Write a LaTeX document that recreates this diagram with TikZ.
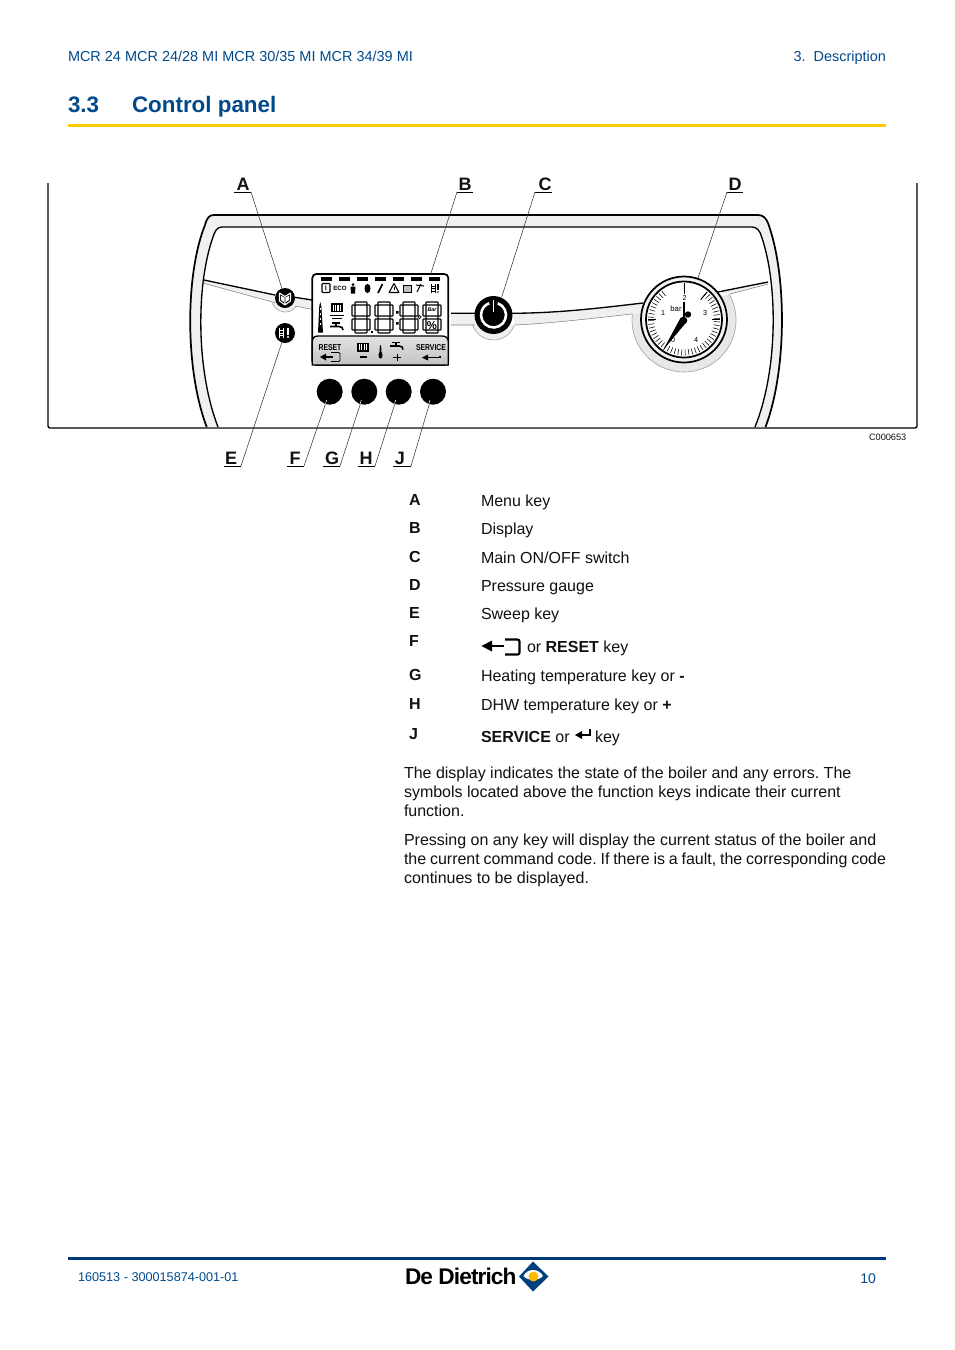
\documentclass[tikz,border=0pt]{standalone}
\usepackage{fontspec}
\usepackage{graphicx}
\setmainfont{Liberation Sans}
\frenchspacing
\definecolor{hblue}{HTML}{004A8C}
\definecolor{fblue}{HTML}{003A78}
\definecolor{ribbon}{HTML}{FFCC00}
\definecolor{ringfill}{HTML}{F0F0F0}
\definecolor{txt}{HTML}{111111}
\definecolor{leaderc}{HTML}{333333}
\newcommand{\fs}[1]{\fontsize{#1}{#1}\selectfont}
\tikzset{
  lab/.style={anchor=base west,inner sep=0,outer sep=0,text=txt,font=\fs{12}},
  labb/.style={lab,font=\fs{12}\bfseries},
  head/.style={anchor=base west,inner sep=0,outer sep=0,text=hblue,font=\fs{10.85}},
  callout/.style={anchor=base,inner sep=0,outer sep=0,text=txt,font=\fs{13.5}\bfseries},
  uline/.style={line width=0.6pt,black},
  leader/.style={line width=0.4pt,leaderc},
  tipline/.style={line width=0.4pt,white},
  blackkey/.style={circle,fill=black,inner sep=0,outer sep=0,minimum size=19.5pt},
  smallkey/.style={blackkey,minimum size=15pt},
  seg/.style={draw=black,line width=0.8pt,fill=white,rounded corners=0.5pt},
  lcdtxt/.style={inner sep=0,outer sep=0,text=black},
  gaugetxt/.style={inner sep=0,outer sep=0,text=black,font=\fs{5.4}},
}
\newcommand{\segdigit}[2]{\begin{scope}[shift={(#1,#2)}]
  \draw[seg] (3,0) rectangle (15,3);
  \draw[seg] (3,14) rectangle (15,17);
  \draw[seg] (3,28) rectangle (15,31);
  \draw[seg] (0,3) rectangle (3,14);
  \draw[seg] (15,3) rectangle (18,14);
  \draw[seg] (0,17) rectangle (3,28);
  \draw[seg] (15,17) rectangle (18,28);
\end{scope}}
\newcommand{\radiator}[3]{\begin{scope}[shift={(#1,#2)},scale=#3]
  \fill[black] (-6,0) rectangle (6,9);
  \foreach \q in {-3.6,-1.2,1.2,3.6}{\fill[white] (\q-.6,1.5) rectangle (\q+.6,7.5);}
\end{scope}}
\newcommand{\tapicon}[2]{\begin{scope}[shift={(#1,#2)}]
  \draw[line width=0.9pt,black] (-4,0) -- (4,0);
  \draw[line width=1.2pt,black] (0,0) -- (0,3);
  \draw[line width=1.2pt,black] (-6,3.5) -- (3,3.5) .. controls (6,3.5) and (7,5) .. (7,7);
\end{scope}}
\begin{document}
\begin{tikzpicture}[x=0.75pt,y=-0.75pt]
\useasboundingbox (0,0) rectangle (954,1350);
\fill[white] (0,0) rectangle (954,1350);
% header
\node[head] (hdrl) at (68,61) {MCR 24 MCR 24/28 MI MCR 30/35 MI MCR 34/39 MI};
\node[head,anchor=base east] (hdrr) at (886,61) {3.\hspace{6pt}Description};
\node[head,font=\fs{16.8}\bfseries] (secn) at (68,112.5) {3.3};
\node[head,font=\fs{16.8}\bfseries] (sect) at (132,112.5) {Control panel};
\fill[ribbon] (68,124) rectangle (886,127);
% frame
\draw[line width=1pt,black,rounded corners=1.5pt] (48,183) -- (48,428) -- (917,428) -- (917,183);
% ring
\path[fill=ringfill,even odd rule]
 (206.7,427) .. controls (185,370) and (185,275) .. (205,225) .. controls (207,218) and (209,215) .. (214,215)
 -- (758,215) .. controls (763,215) and (766,218) .. (768,223) .. controls (787,275) and (787,370) .. (765.5,427) -- cycle
 (218,427) .. controls (196,370) and (196,285) .. (213,237) .. controls (215,231) and (217,227) .. (222,227)
 -- (752,227) .. controls (757,227) and (760,231) .. (761.7,237) .. controls (778,285) and (778,370) .. (755,427) -- cycle;
\draw[line width=1.3pt,black] (206.7,427) .. controls (185,370) and (185,275) .. (205,225) .. controls (207,218) and (209,215) .. (214,215)
 -- (758,215) .. controls (763,215) and (766,218) .. (768,223) .. controls (787,275) and (787,370) .. (765.5,427);
\draw[line width=1pt,black] (218,427) .. controls (196,370) and (196,285) .. (213,237) .. controls (215,231) and (217,227) .. (222,227)
 -- (752,227) .. controls (757,227) and (760,231) .. (761.7,237) .. controls (778,285) and (778,370) .. (755,427);
% halos
\draw[fill=ringfill,draw=gray!70,line width=0.5pt] (285,298.5)+(160:13.5) arc[start angle=160,end angle=20,radius=13.5];
\draw[fill=ringfill,draw=gray!70,line width=0.5pt] (493.5,318)+(161.5:22) arc[start angle=161.5,end angle=18.5,radius=22];
\draw[fill=gray!18,draw=gray!70,line width=0.5pt] (684,320)+(186.6:52) arc[start angle=186.6,end angle=-29.5,radius=52];
% bands
\fill[ringfill] (204,280) -- (275,295) -- (275,302.7) -- (204,283.3) -- cycle;
\fill[ringfill] (295,297.3) -- (312,300) -- (312,309.3) -- (295,306) -- cycle;
\fill[ringfill] (451,313.3) -- (475,313.3) -- (475,325) -- (451,325) -- cycle;
\fill[ringfill] (512,313.3) .. controls (560,313) and (600,308) .. (643,303) -- (650,312) -- (632,314) .. controls (595,318) and (555,323) .. (515,325) -- cycle;
\fill[ringfill] (718,292) -- (768,282) -- (768,284) -- (730,294) -- cycle;
\draw[line width=1pt,black] (204,280) -- (275,295) (295,297.3) -- (312,300) (451,313.3) -- (475,313.3);
\draw[line width=1pt,black] (512,313.3) .. controls (560,313) and (600,308) .. (643,303);
\draw[line width=1pt,black] (718,292) -- (768,282);
\draw[line width=0.4pt,gray] (204,283.3) -- (275,302.7) (295,306) -- (312,309.3) (451,325) -- (475,325);
\draw[line width=0.4pt,gray] (515,325) .. controls (555,323) and (595,318) .. (632,314);
\draw[line width=0.4pt,gray] (730,294) -- (768,284);
% keys
\node[smallkey] (keyA) at (285,298) {};
\node[smallkey] (keyE) at (285,333) {};
\node[blackkey,minimum size=28.5pt] (keyC) at (493.5,315) {};
\node[blackkey] (keyF) at (329.7,391.7) {};
\node[blackkey] (keyG) at (364.3,391.7) {};
\node[blackkey] (keyH) at (398.7,391.7) {};
\node[blackkey] (keyJ) at (433,391.7) {};
% key icons
\draw[white,line width=0.8pt,line join=round] (279.5,293) -- (285,296.5) -- (290.5,293) -- (290.5,301) -- (285,305) -- (279.5,301) -- cycle (285,296.5) -- (285,305);
\fill[white] (281,295.5) -- (284,297.5) -- (284,302) -- (281,300) -- cycle (289,295.5) -- (286,297.5) -- (286,302) -- (289,300) -- cycle;
\draw[white,line width=0.5pt] (279,328) -- (279,338) (283,328) -- (283,338) (279,330.5) -- (283,330.5) (279,333) -- (283,333) (279,335.5) -- (283,335.5);
\draw[white,line width=1.4pt] (288,328) -- (288,334.5);
\fill[white] (288,337) circle (1.2);
\draw[white,line width=1.9pt] (493.5,315)+(-70:12.5) arc[start angle=-70,end angle=250,radius=12.5];
\draw[white,line width=1.4pt] (493.5,300) -- (493.5,312);
% display
\node[draw=black,line width=1.3pt,rounded corners=3pt,fill=white,inner sep=0,outer sep=0,minimum width=102pt,minimum height=68.25pt] (display) at (380.3,319.5) {};
\fill[top color=gray!22,bottom color=gray!48,draw=black,line width=1pt] (312.3,365) -- (312.3,342) .. controls (312.3,338) and (314,336) .. (318,336) -- (442,336) .. controls (446,336) and (448.3,338) .. (448.3,342) -- (448.3,365) -- cycle;
\foreach \q in {321,339,357,375,393,411,429}{\fill[black] (\q,277) rectangle (\q+11,281);}
% top icons
\draw[black,line width=0.8pt,rounded corners=0.6pt] (322,283.5) rectangle (330,292.5);
\node[lcdtxt,font=\fs{5.5}\bfseries] (lcdi) at (326,288) {i};
\node[lcdtxt,font=\fs{4.6}\bfseries] (lcdeco) at (340,288) {ECO};
\fill[black] (353,284.5) circle (1.5) (350.5,286.5) -- (355.5,286.5) -- (355,293.5) -- (351,293.5) -- cycle;
\fill[black] (367.5,288.5) ellipse (3 and 4.6);
\draw[black,line width=1.2pt] (378,293) -- (382.5,284);
\draw[black,line width=0.8pt,line join=round] (394,283.5) -- (399,292.5) -- (389,292.5) -- cycle;
\fill[black] (393.5,286.5) rectangle (394.5,290);
\draw[black,fill=gray!50,line width=0.7pt] (403,285) rectangle (411,292);
\draw[black,line width=0.8pt] (417,292) -- (421,284) (416,285) -- (424,286);
\draw[black,line width=0.5pt] (431,284) -- (431,293) (435,284) -- (435,293) (431,286) -- (435,286) (431,288.5) -- (435,288.5) (431,291) -- (435,291);
\draw[black,line width=1pt] (438,284) -- (438,290);
\fill[black] (438,292) circle (0.8);
% left column
\fill[black] (318,332.5) -- (319.3,306) -- (320.3,302) -- (321.3,306) -- (323,332.5) -- cycle;
\foreach \q in {308,313,318,323}{\fill[white] (319.9,\q) rectangle (321,\q+2);}
\radiator{336.7}{303}{1}
\draw[black,line width=0.9pt] (330,315.5) -- (344,315.5) (332,318.5) -- (342,318.5);
\tapicon{336}{323}
% digits
\segdigit{352}{302}
\segdigit{375}{302}
\segdigit{400}{302}
\segdigit{423}{302}
\fill[black] (371,330.5) rectangle (373,332.5);
\fill[black] (396,311) rectangle (398.5,313.5) (396,322) rectangle (398.5,324.5);
\draw[black,line width=0.6pt] (419.5,317) circle (1.6);
\node[lcdtxt,font=\fs{4}\bfseries\itshape] (lcdbar) at (432,310) {Bar};
\node[lcdtxt,font=\fs{8.5}\bfseries] (lcdpct) at (432,325.5) {\%};
% lower icons
\node[lcdtxt,font=\fs{6.4}\bfseries] (lcdreset) at (330,347.5) {\scalebox{.8}[1]{RESET}};
\node[lcdtxt,font=\fs{6.4}\bfseries] (lcdserv) at (431,347.5) {\scalebox{.8}[1]{SERVICE}};
\fill[black] (320,357) -- (326,353.5) -- (326,360.5) -- cycle;
\draw[black,line width=0.8pt] (326,357) -- (333,357);
\draw[black,line width=0.7pt,rounded corners=1pt] (331,352.5) -- (340,352.5) -- (340,361.5) -- (331,361.5);
\radiator{363}{343}{.95}
\draw[black,line width=1pt] (359.5,357) -- (366.5,357);
\fill[black] (380,345) -- (381.2,345.6) -- (381.4,352) .. controls (383,354) and (383,358.5) .. (380.5,358.5) .. controls (378,358.5) and (378,354) .. (379.6,352) -- (379.8,345.6) -- cycle;
\tapicon{396}{342.5}
\draw[black,line width=0.7pt] (393,357) -- (401,357) (397,353.5) -- (397,361);
\fill[black] (422,357.5) -- (428,354.5) -- (428,360.5) -- cycle;
\draw[black,line width=1pt] (428,357.5) -- (440,357.5) -- (440,355.5);
% gauge
\node[circle,draw=black,line width=1.3pt,fill=gray!10,inner sep=0,outer sep=0,minimum size=64.5pt] (gauge) at (684,319.5) {};
\draw[black,line width=1.3pt,fill=white] (684,319.5) circle (38);
\foreach \a in {232,226,...,-50}{\draw[black,line width=0.42pt] (684,319.5)+(\a:30) -- +(\a:36);}
\draw[black,line width=1.1pt] (684,319.5)+(180:28) -- +(180:36) (684,319.5)+(0:28) -- +(0:36);
\draw[black,line width=0.7pt] (684,319.5)+(-50:26) -- +(-50:36);
\node[gaugetxt] (g1) at (663,313) {1};
\node[gaugetxt] (g2) at (684.5,297.5) {2};
\node[gaugetxt] (g3) at (705,313) {3};
\node[gaugetxt] (g4) at (696,340) {4};
\node[gaugetxt] (g0) at (673,340) {0};
\node[gaugetxt,font=\fs{5.8}] (gbar) at (676,309) {bar};
\draw[black,line width=0.7pt] (684,283) -- (684,293.5);
\draw[black,line width=2pt] (684,301.5) -- (684,318);
\fill[black] (683.5,320.5) circle (3.8) (688,314.5) circle (3.2);
\fill[black] (662.8,350.5) -- (680.5,318) -- (686.5,322) -- cycle;
% callouts
\foreach \nm/\xx/\yy/\ul/\ur/\uy in {A/243/190.7/234/251/192,B/465/190.7/457/473/192,C/545/190.7/535/552/192,D/735/190.7/727/743/192,E/231/464/224/241/466,F/295/464/287/304/466,G/332/464/323/340/466,H/366/464/358/375/466,J/400/464/393/411/466}{
  \node[callout] (lab\nm) at (\xx,\yy) {\nm};
  \coordinate (ul\nm) at (\ul,\uy);
  \coordinate (ur\nm) at (\ur,\uy);
  \draw[uline] (ul\nm) -- (ur\nm);
}
\coordinate (tipB) at (430.7,274);
\coordinate (tipC) at (501.7,297);
\coordinate (tipD) at (698,278);
\draw[leader] (urA) -- (keyA);
\draw[leader] (ulB) -- (tipB);
\draw[leader] (ulC) -- (tipC);
\draw[leader] (ulD) -- (tipD);
\draw[leader] (urE) -- (keyE);
\draw[leader] (urF) -- (keyF);
\draw[leader] (urG) -- (keyG);
\draw[leader] (urH) -- (keyH);
\draw[leader] (urJ) -- (keyJ);
\draw[tipline] (keyF)+(-3,8.3) -- +(-4.2,12.3);
\draw[tipline] (keyG)+(-3,8.3) -- +(-4.2,12.3);
\draw[tipline] (keyH)+(-3,8.3) -- +(-4.2,12.3);
\draw[tipline] (keyJ)+(-3,8.3) -- +(-4.2,12.3);
\node[lab,font=\fs{6.9}] (code) at (869,440) {C000653};
% list
\foreach \nm/\yy in {A/505,B/533.5,C/562,D/590,E/618.5,F/646.5,G/680,H/709,J/739}{\node[labb] (it\nm) at (409,\yy) {\nm};}
\node[lab] (dA) at (481,506) {Menu key};
\node[lab] (dB) at (481,534) {Display};
\node[lab] (dC) at (481,563) {Main ON/OFF switch};
\node[lab] (dD) at (481,591) {Pressure gauge};
\node[lab] (dE) at (481,619) {Sweep key};
\fill[black] (481.5,646) -- (492,640.5) -- (492,651.5) -- cycle;
\draw[black,line width=1.8pt] (492,646) -- (504,646);
\draw[black,line width=1.6pt,rounded corners=1.5pt] (505,639.5) -- (519.5,639.5) -- (519.5,654.5) -- (505,654.5);
\node[lab] (dF) at (527,652) {or \textbf{RESET} key};
\node[lab] (dG) at (481,681) {Heating temperature key or \textbf{-}};
\node[lab] (dH) at (481,710) {DHW temperature key or \textbf{+}};
\node[lab] (dJ) at (481,742) {\textbf{SERVICE} or};
\fill[black] (575,735) -- (582,731) -- (582,739) -- cycle;
\draw[black,line width=1.5pt] (582,735) -- (589.5,735) -- (589.5,729);
\node[lab] (dJb) at (595,742) {key};
\node[lab] (p1) at (404,778) {The display indicates the state of the boiler and any errors. The};
\node[lab] (p2) at (404,797) {symbols located above the function keys indicate their current};
\node[lab] (p3) at (404,816) {function.};
\node[lab] (p4) at (404,845.5) {Pressing on any key will display the current status of the boiler and};
\node[lab] (p5) at (404,864.5) {\spaceskip=2.85pt\relax the current command code. If there is a fault, the corresponding code};
\node[lab] (p6) at (404,883.5) {continues to be displayed.};
% footer
\fill[fblue] (68,1257) rectangle (886,1260);
\node[head,font=\fs{9.5}] (fl) at (78,1281) {160513 - 300015874-001-01};
\node[head,font=\fs{10.5},anchor=base east] (fr) at (876,1283) {10};
\node[anchor=base west,inner sep=0,outer sep=0,font=\fs{17}\bfseries\addfontfeatures{LetterSpace=-4}] (logo) at (405,1284.5) {De Dietrich};
\fill[fblue!70!hblue] (533,1261.5) -- (548.5,1276.5) -- (533,1291.5) -- (519,1276.5) -- cycle;
\fill[white] (523.5,1276) .. controls (527,1268) and (539,1268) .. (543,1276) .. controls (539,1281) and (527,1281) .. (523.5,1276) -- cycle;
\fill[ribbon!80!orange] (533.5,1276.5) circle (5);
\end{tikzpicture}
\end{document}
